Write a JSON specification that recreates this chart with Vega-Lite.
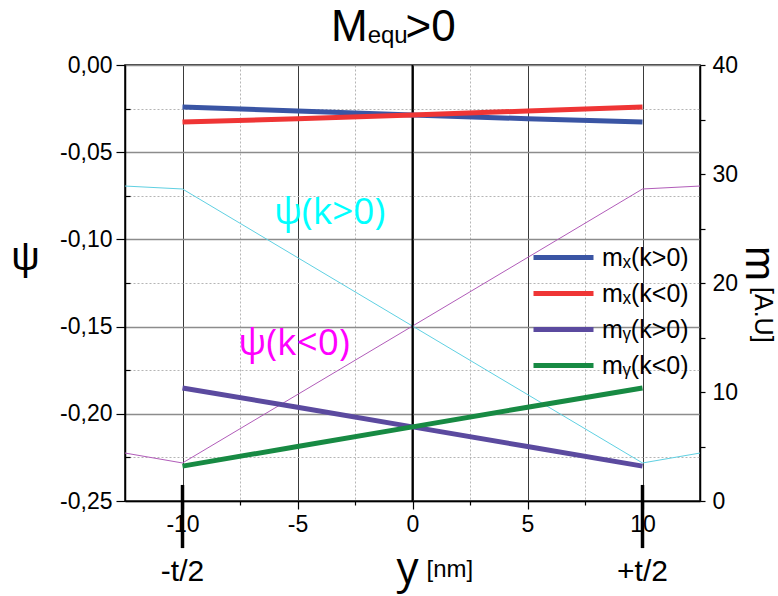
{
  "$schema": "https://vega.github.io/schema/vega-lite/v6.json",
  "width": 575,
  "height": 436,
  "autosize": {"type": "none"},
  "padding": {"left": 125, "top": 65, "right": 78, "bottom": 95},
  "background": "white",
  "config": {
    "view": {"stroke": "black", "strokeWidth": 1.5},
    "font": "Liberation Sans",
    "axis": {"labelFont": "Liberation Sans", "labelFontSize": 23, "labelColor": "black", "tickColor": "black", "tickWidth": 1.2, "domainColor": "black", "domainWidth": 1.5, "titleColor": "black", "titleFontWeight": "normal", "labelFlush": false, "labelOverlap": false},
    "legend": {"labelFont": "Liberation Sans", "labelFontSize": 25, "labelColor": "black"}
  },
  "datasets": {
    "psi": [
      {"y_nm": -12.5, "psi": -0.0694, "series": "ψ(k>0)"},
      {"y_nm": -10, "psi": -0.0711, "series": "ψ(k>0)"},
      {"y_nm": 0, "psi": -0.1497, "series": "ψ(k>0)"},
      {"y_nm": 10, "psi": -0.2282, "series": "ψ(k>0)"},
      {"y_nm": 12.5, "psi": -0.2225, "series": "ψ(k>0)"},
      {"y_nm": -12.5, "psi": -0.2225, "series": "ψ(k<0)"},
      {"y_nm": -10, "psi": -0.2282, "series": "ψ(k<0)"},
      {"y_nm": 0, "psi": -0.1497, "series": "ψ(k<0)"},
      {"y_nm": 10, "psi": -0.0711, "series": "ψ(k<0)"},
      {"y_nm": 12.5, "psi": -0.0694, "series": "ψ(k<0)"}
    ],
    "m": [
      {"y_nm": -10, "m": 36.15, "series": "mₓ(k>0)"},
      {"y_nm": -5, "m": 35.78, "series": "mₓ(k>0)"},
      {"y_nm": 0, "m": 35.42, "series": "mₓ(k>0)"},
      {"y_nm": 5, "m": 35.07, "series": "mₓ(k>0)"},
      {"y_nm": 10, "m": 34.77, "series": "mₓ(k>0)"},
      {"y_nm": -10, "m": 34.77, "series": "mₓ(k<0)"},
      {"y_nm": -5, "m": 35.07, "series": "mₓ(k<0)"},
      {"y_nm": 0, "m": 35.42, "series": "mₓ(k<0)"},
      {"y_nm": 5, "m": 35.78, "series": "mₓ(k<0)"},
      {"y_nm": 10, "m": 36.15, "series": "mₓ(k<0)"},
      {"y_nm": -10, "m": 10.37, "series": "mᵧ(k>0)"},
      {"y_nm": -5, "m": 8.6, "series": "mᵧ(k>0)"},
      {"y_nm": 0, "m": 6.8, "series": "mᵧ(k>0)"},
      {"y_nm": 5, "m": 5.0, "series": "mᵧ(k>0)"},
      {"y_nm": 10, "m": 3.2, "series": "mᵧ(k>0)"},
      {"y_nm": -10, "m": 3.2, "series": "mᵧ(k<0)"},
      {"y_nm": -5, "m": 5.0, "series": "mᵧ(k<0)"},
      {"y_nm": 0, "m": 6.8, "series": "mᵧ(k<0)"},
      {"y_nm": 5, "m": 8.6, "series": "mᵧ(k<0)"},
      {"y_nm": 10, "m": 10.37, "series": "mᵧ(k<0)"}
    ],
    "edges": [
      {"y_nm": -10, "label": "-t/2"},
      {"y_nm": 10, "label": "+t/2"}
    ],
    "one": [{}]
  },
  "layer": [
    {
      "layer": [
        {
          "data": {"name": "psi"},
          "mark": {"type": "line", "strokeWidth": 1},
          "encoding": {
            "x": {
              "field": "y_nm", "type": "quantitative",
              "scale": {"domain": [-12.5, 12.5], "nice": false, "zero": false},
              "axis": {
                "values": [-10, -7.5, -5, -2.5, 0, 2.5, 5, 7.5, 10],
                "labelExpr": "datum.value % 5 === 0 ? replace(format(datum.value, 'd'), '−', '-') : ''",
                "grid": true,
                "gridColor": {"condition": {"test": "datum.value % 5 === 0", "value": "#3a3a3a"}, "value": "#b5b5b5"},
                "gridDash": {"condition": {"test": "datum.value % 5 === 0", "value": []}, "value": [2, 2]},
                "gridWidth": 1,
                "tickSize": {"condition": {"test": "datum.value % 5 === 0", "value": 8}, "value": 4},
                "labelPadding": 4,
                "title": "y",
                "titleFont": "Open Sans",
                "titleFontSize": 44,
                "titleX": 282,
                "titleY": 81,
                "titleAlign": "center",
                "titleBaseline": "alphabetic"
              }
            },
            "y": {
              "field": "psi", "type": "quantitative",
              "scale": {"domain": [-0.25, 0], "nice": false, "zero": false},
              "axis": {
                "values": [0, -0.025, -0.05, -0.075, -0.1, -0.125, -0.15, -0.175, -0.2, -0.225, -0.25],
                "labelExpr": "abs(datum.value * 20 - round(datum.value * 20)) < 0.001 ? replace(replace(format(datum.value, '.2f'), '.', ','), '−', '-') : ''",
                "grid": true,
                "gridColor": {"condition": {"test": "abs(datum.value * 20 - round(datum.value * 20)) < 0.001", "value": "#8c8c8c"}, "value": "#b5b5b5"},
                "gridDash": {"condition": {"test": "abs(datum.value * 20 - round(datum.value * 20)) < 0.001", "value": []}, "value": [2, 2]},
                "gridWidth": {"condition": {"test": "abs(datum.value * 20 - round(datum.value * 20)) < 0.001", "value": 1.5}, "value": 1},
                "tickSize": {"condition": {"test": "abs(datum.value * 20 - round(datum.value * 20)) < 0.001", "value": 9}, "value": -5},
                "labelPadding": 4,
                "title": "ψ",
                "titleFontSize": 40,
                "titleAngle": 0,
                "titleX": -100,
                "titleY": 192,
                "titleAlign": "center",
                "titleBaseline": "middle"
              }
            },
            "color": {
              "field": "series", "type": "nominal",
              "scale": {"domain": ["ψ(k>0)", "ψ(k<0)"], "range": ["#5fd0e2", "#b15cb9"]},
              "legend": null
            }
          }
        },
        {
          "data": {"name": "one"},
          "mark": {"type": "rule", "color": "black", "strokeWidth": 2},
          "encoding": {"x": {"datum": 0}}
        },
        {
          "data": {"name": "edges"},
          "mark": {"type": "rule", "color": "black", "strokeWidth": 3.5},
          "encoding": {
            "x": {"field": "y_nm", "type": "quantitative"},
            "y": {"datum": -0.2408},
            "y2": {"datum": -0.277}
          }
        },
        {
          "data": {"name": "edges"},
          "mark": {"type": "text", "fontSize": 30, "font": "Liberation Sans", "color": "black", "align": "center", "baseline": "alphabetic"},
          "encoding": {
            "x": {"field": "y_nm", "type": "quantitative"},
            "y": {"datum": -0.296},
            "text": {"field": "label"}
          }
        },
        {
          "data": {"name": "one"},
          "mark": {"type": "text", "text": "ψ(k>0)", "font": "Open Sans", "fontSize": 37, "color": "#00ffff", "align": "center", "baseline": "alphabetic"},
          "encoding": {"x": {"datum": -3.6}, "y": {"datum": -0.0912}}
        },
        {
          "data": {"name": "one"},
          "mark": {"type": "text", "text": "ψ(k<0)", "font": "Open Sans", "fontSize": 37, "color": "#ff00ff", "align": "center", "baseline": "alphabetic"},
          "encoding": {"x": {"datum": -5.15}, "y": {"datum": -0.1663}}
        },
        {
          "data": {"name": "one"},
          "mark": {"type": "text", "text": "M", "font": "Liberation Sans", "fontSize": 44, "color": "black", "align": "right", "baseline": "alphabetic"},
          "encoding": {"x": {"datum": -1.95}, "y": {"datum": 0.0137}}
        },
        {
          "data": {"name": "one"},
          "mark": {"type": "text", "text": "equ", "font": "Liberation Sans", "fontSize": 24, "color": "black", "align": "left", "baseline": "alphabetic"},
          "encoding": {"x": {"datum": -1.95}, "y": {"datum": 0.0126}}
        },
        {
          "data": {"name": "one"},
          "mark": {"type": "text", "text": ">0", "font": "Liberation Sans", "fontSize": 44, "color": "black", "align": "left", "baseline": "alphabetic"},
          "encoding": {"x": {"datum": -0.3}, "y": {"datum": 0.0137}}
        },
        {
          "data": {"name": "one"},
          "mark": {"type": "text", "text": "[nm]", "font": "Liberation Sans", "fontSize": 24, "color": "black", "align": "left", "baseline": "alphabetic"},
          "encoding": {"x": {"datum": 0.61}, "y": {"datum": -0.2936}}
        }
      ]
    },
    {
      "layer": [
        {
          "data": {"name": "m"},
          "mark": {"type": "line", "strokeWidth": 5},
          "encoding": {
            "x": {"field": "y_nm", "type": "quantitative"},
            "y": {
              "field": "m", "type": "quantitative",
              "scale": {"domain": [0, 40], "nice": false},
              "axis": {
                "orient": "right",
                "values": [0, 5, 10, 15, 20, 25, 30, 35, 40],
                "labelExpr": "datum.value % 10 === 0 ? datum.label : ''",
                "grid": false,
                "tickSize": 5,
                "labelPadding": 7,
                "title": "m",
                "titleFontSize": 42,
                "titleAngle": 90,
                "titleX": 58,
                "titleY": 198,
                "titleAlign": "center",
                "titleBaseline": "middle"
              }
            },
            "color": {
              "field": "series", "type": "nominal",
              "scale": {"domain": ["mₓ(k>0)", "mₓ(k<0)", "mᵧ(k>0)", "mᵧ(k<0)"], "range": ["#3a55a4", "#ef3535", "#5b4a9f", "#178a43"]},
              "legend": {
                "orient": "none",
                "legendX": 426,
                "legendY": 180,
                "title": null,
                "symbolType": "M-3,0L3,0",
                "symbolSize": 400,
                "symbolStrokeWidth": 5,
                "labelOffset": 26,
                "rowPadding": 10
              }
            }
          }
        },
        {
          "data": {"name": "one"},
          "mark": {"type": "text", "text": "[A.U]", "font": "Liberation Sans", "fontSize": 25, "color": "black", "angle": 90, "align": "left", "baseline": "middle"},
          "encoding": {"x": {"datum": 15.24}, "y": {"datum": 19.63}}
        }
      ]
    }
  ],
  "resolve": {"scale": {"y": "independent", "color": "independent"}}
}
